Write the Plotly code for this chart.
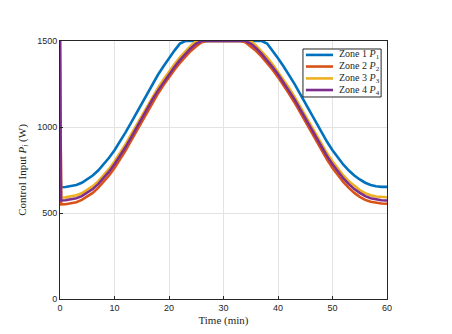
import plotly.graph_objects as go

# time axis (min): spike at start, then one reading per minute
time = [0, 0.2] + list(range(1, 61))

zone1 = [765, 650, 651, 655, 663, 676, 695, 718, 747, 781, 821, 865, 914, 967, 1023, 1081,
         1139, 1196, 1252, 1305, 1353, 1400, 1444, 1485,
         1500, 1500, 1500, 1500, 1500, 1500, 1500, 1500, 1500, 1500, 1500, 1500, 1500, 1500, 1500,
         1485, 1444, 1400, 1353, 1305, 1252, 1196, 1139, 1081, 1023, 967, 914, 865, 821, 781,
         747, 718, 695, 676, 663, 655, 652, 652]
zone2 = [1500, 550, 551, 555, 563, 576, 594, 617, 646, 679, 718, 762, 810, 862, 918, 975,
         1032, 1088, 1144, 1195, 1244, 1290, 1333, 1373, 1409, 1442, 1470, 1493,
         1500, 1500, 1500, 1500, 1500, 1500, 1500,
         1493, 1470, 1442, 1409, 1373, 1333, 1290, 1244, 1195, 1144, 1088, 1032, 975, 918,
         862, 810, 762, 718, 679, 646, 617, 594, 576, 565, 558, 555, 554]
zone3 = [1500, 590, 591, 595, 603, 615, 633, 656, 684, 718, 756, 799, 847, 898, 954, 1010,
         1067, 1123, 1178, 1229, 1276, 1322, 1365, 1405, 1441, 1473,
         1500, 1500, 1500, 1500, 1500, 1500, 1500, 1500, 1500, 1500, 1500,
         1473, 1441, 1405, 1365, 1322, 1276, 1229, 1178, 1123, 1067, 1010, 954, 898, 847,
         799, 756, 718, 684, 656, 633, 615, 603, 596, 593, 592]
zone4 = [1500, 573, 574, 578, 586, 598, 617, 639, 668, 701, 740, 783, 830, 882, 937, 994,
         1051, 1107, 1162, 1213, 1261, 1307, 1349, 1389, 1425, 1458, 1485,
         1500, 1500, 1500, 1500, 1500, 1500, 1500, 1500, 1500,
         1485, 1458, 1425, 1389, 1349, 1307, 1261, 1213, 1162, 1107, 1051, 994, 937, 882,
         830, 783, 740, 701, 668, 639, 617, 598, 586, 578, 574, 573]

names = ["Zone 1 <i>P</i><sub>1</sub>", "Zone 2 <i>P</i><sub>2</sub>",
         "Zone 3 <i>P</i><sub>3</sub>", "Zone 4 <i>P</i><sub>4</sub>"]
colors = ["#0072BD", "#D95319", "#EDB120", "#7E2F8E"]

fig = go.Figure()
for name, vals, col in zip(names, [zone1, zone2, zone3, zone4], colors):
    assert len(vals) == len(time), name
    fig.add_trace(go.Scatter(x=time, y=vals, mode="lines", name=name,
                             line=dict(color=col, width=2.6),
                             cliponaxis=False, showlegend=False))

# compact legend box, drawn by hand (plotly's own rows are too tall)
fig.add_shape(type="rect", xref="paper", yref="paper", x0=0.743, x1=0.982, y0=0.783, y1=0.969,
              line=dict(color="#262626", width=1), fillcolor="white", layer="above")
row_y = [0.946, 0.901, 0.855, 0.810]
for name, col, yy in zip(names, colors, row_y):
    fig.add_shape(type="line", xref="paper", yref="paper", x0=0.752, x1=0.835, y0=yy, y1=yy,
                  line=dict(color=col, width=2.6), layer="above")
    fig.add_annotation(xref="paper", yref="paper", x=0.847, y=yy, text=name, showarrow=False,
                       xanchor="left", yanchor="middle",
                       font=dict(family="Liberation Serif", size=10, color="#262626"))

axis_style = dict(
    showgrid=True, gridcolor="#e3e3e3", gridwidth=1,
    showline=True, linecolor="#262626", linewidth=1, mirror=True,
    ticks="inside", ticklen=3, tickcolor="#262626",
    tickfont=dict(family="Liberation Sans", size=9, color="#262626"),
    zeroline=False,
)

fig.update_layout(
    width=452, height=334,
    margin=dict(l=52, r=73, t=33, b=43),
    plot_bgcolor="white", paper_bgcolor="white",
    xaxis=dict(range=[0, 60], dtick=10,
               title=dict(text="Time (min)", standoff=4,
                          font=dict(family="Liberation Serif", size=11, color="#262626")),
               **axis_style),
    yaxis=dict(range=[0, 1500], dtick=500,
               title=dict(text="Control Input <i>P<sub>i</sub></i> (W)", standoff=8,
                          font=dict(family="Liberation Serif", size=11, color="#262626")),
               **axis_style),
)

fig.write_html("out.html")
